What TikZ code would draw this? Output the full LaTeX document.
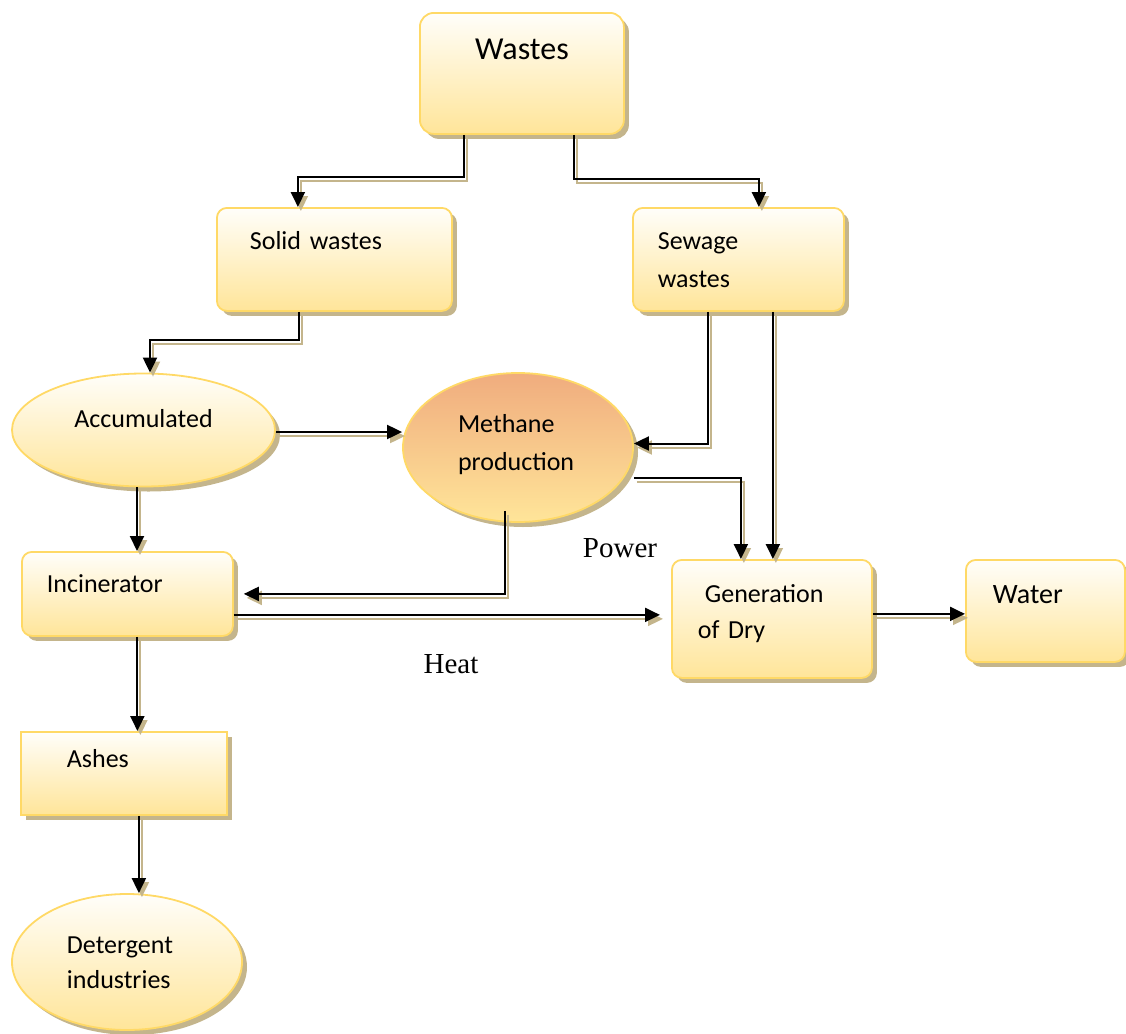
\documentclass[tikz,border=0pt]{standalone}
\usepackage{fontspec}
\setmainfont{Carlito}
\newfontfamily\serifpaper{Liberation Serif}
\usepackage{tikz}
\usetikzlibrary{positioning,shapes.geometric,shadows,arrows.meta}

\definecolor{boxline}{RGB}{255,217,102}
\definecolor{boxtop}{RGB}{255,254,250}
\definecolor{boxbottom}{RGB}{255,229,153}
\definecolor{methanetop}{RGB}{240,172,126}
\definecolor{shadowtan}{RGB}{196,181,140}

\tikzset{
  stage/.style={draw=boxline, line width=0.9pt, top color=boxtop, bottom color=boxbottom,
    drop shadow={shadow xshift=2.5pt, shadow yshift=-2.5pt, fill=shadowtan, opacity=1},
    font=\fontsize{13}{19}\selectfont, align=left, inner ysep=0pt},
  roundbox/.style={stage, rounded corners=5pt, anchor=north west},
  squarebox/.style={stage, anchor=north west},
  blob/.style={stage, ellipse, inner sep=0pt, text height=4pt},
  flow/.style={line width=1pt, -{Triangle[length=7.5pt,width=7pt]},
    preaction={draw=shadowtan, line width=1pt, transform canvas={xshift=1.5pt,yshift=-2pt}}},
  tag/.style={font=\serifpaper\fontsize{14.5}{17}\selectfont, anchor=base}
}

\begin{document}
\begin{tikzpicture}[x=0.5pt, y=-0.5pt]
\useasboundingbox (0,0) rectangle (1126,1034);

\node[roundbox, rounded corners=7pt, font=\fontsize{16}{19}\selectfont, align=center, inner xsep=0pt, text width=102pt, text height=23.5pt, text depth=37pt] (wastes) at (419,12) {Wastes};
\node[roundbox, inner xsep=16.5pt, text width=84.5pt, text height=21pt, text depth=30.5pt] (solid) at (216,207) {Solid wastes};
\node[roundbox, inner xsep=12.5pt, text width=80.5pt, text height=21pt, text depth=30.5pt] (sewage) at (632,207) {Sewage\\wastes};
\node[blob, minimum width=131.5pt, minimum height=56.5pt, text depth=7pt] (accum) at (143.5,430) {Accumulated};
\node[blob, top color=methanetop, text width=60pt, minimum width=115pt, minimum height=74.5pt, text depth=19.5pt] (methane) at (518,447.5) {Methane\\production};
\node[roundbox, inner xsep=12.5pt, text width=80.5pt, text height=20.5pt, text depth=21.5pt] (incin) at (21,551) {Incinerator};
\node[roundbox, font=\fontsize{13}{18}\selectfont, inner xsep=13pt, text width=74pt, text height=21.5pt, text depth=37.5pt] (gen) at (671,559) {\hspace*{3.5pt}Generation\\of Dry};
\node[roundbox, font=\fontsize{14}{19}\selectfont, inner xsep=13.5pt, text width=52.5pt, text height=22pt, text depth=29pt] (water) at (965,559) {Water};
\node[squarebox, inner xsep=23pt, text width=57pt, text height=18pt, text depth=23.5pt] (ashes) at (20,731) {Ashes};
\node[blob, font=\fontsize{13}{17.5}\selectfont, text width=60pt, minimum width=115pt, minimum height=68pt, text depth=13pt] (deterg) at (127,962) {Detergent\\industries};

\node[tag] (power) at (620,557) {Power};
\node[tag] (heat) at (451,673) {Heat};

\draw[flow] ([xshift=-29pt]wastes.south) -- ++(0,42) -| ([xshift=-18.25pt]solid.north);
\draw[flow] ([xshift=26pt]wastes.south) -- ++(0,44) -| ([xshift=10.25pt]sewage.north);
\draw[flow] ([xshift=-17.75pt]solid.south) -- ++(0,28) -| ([xshift=3.25pt]accum.north);
\draw[flow] ([yshift=-1pt]accum.east) -- ([yshift=-1pt]accum.east -| methane.west);
\draw[flow] ([xshift=-15.25pt]sewage.south) |- ([yshift=2pt]methane.east);
\draw[flow] ([xshift=17.25pt]sewage.south) -- ([xshift=17.25pt]sewage.south |- gen.north);
\draw[flow] ([yshift=-15pt]methane.east) -| ([xshift=-15.5pt]gen.north);
\draw[flow] ([xshift=-6.5pt,yshift=6pt]methane.south) |- ([xshift=5pt]incin.east);
\draw[flow, shorten >=5.5pt] ([yshift=-10.5pt]incin.east) -- ([yshift=-10.5pt]incin.east -| gen.west);
\draw[flow] ([xshift=-3.25pt]accum.south) -- ([xshift=-3.25pt]accum.south |- incin.north);
\draw[flow] ([xshift=5pt]incin.south) -- ([xshift=5pt]incin.south |- ashes.north);
\draw[flow] ([xshift=7.5pt]ashes.south) -- ([xshift=7.5pt]ashes.south |- deterg.north);
\draw[flow] ([yshift=2.5pt]gen.east) -- ([yshift=2.5pt]gen.east -| water.west);
\end{tikzpicture}
\end{document}
